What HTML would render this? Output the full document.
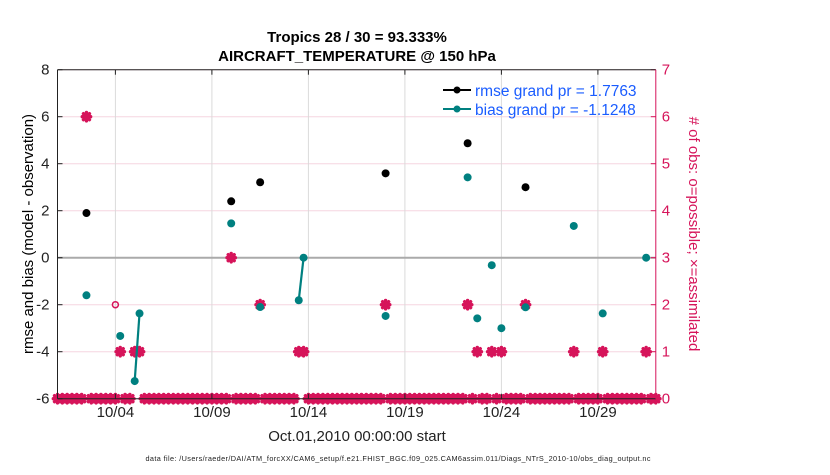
<!DOCTYPE html>
<html><head><meta charset="utf-8"><style>
body{margin:0;background:#fff}
svg text{font-family:"Liberation Sans",Arial,sans-serif}
</style></head><body>
<svg id="chart" width="830" height="470" viewBox="0 0 830 470" xmlns="http://www.w3.org/2000/svg">
<rect width="830" height="470" fill="#fff"/>
<g id="grid"></g><g id="marks"></g><g id="axes"></g>
<text x="357" y="42" text-anchor="middle" font-size="15" font-weight="bold">Tropics 28 / 30 = 93.333%</text>
<text x="357" y="61" text-anchor="middle" font-size="15" font-weight="bold">AIRCRAFT_TEMPERATURE @ 150 hPa</text>
<text transform="translate(33,234) rotate(-90)" text-anchor="middle" font-size="15">rmse and bias (model - observation)</text>
<text transform="translate(689,234) rotate(90)" text-anchor="middle" font-size="15" fill="#d6145a"># of obs: o=possible; ×=assimilated</text>
<text x="357" y="441" text-anchor="middle" font-size="15" fill="#222">Oct.01,2010 00:00:00 start</text>
<text x="398" y="461" text-anchor="middle" font-size="7.3" fill="#222" textLength="505">data file: /Users/raeder/DAI/ATM_forcXX/CAM6_setup/f.e21.FHIST_BGC.f09_025.CAM6assim.011/Diags_NTrS_2010-10/obs_diag_output.nc</text>
<g>
<line x1="443" y1="90" x2="471" y2="90" stroke="#000" stroke-width="2"/><circle cx="457" cy="90" r="3.5" fill="#000"/>
<text x="475" y="96" font-size="15.5" fill="#1a5cff">rmse grand pr = 1.7763</text>
<line x1="443" y1="109" x2="471" y2="109" stroke="#008080" stroke-width="2"/><circle cx="457" cy="109" r="3.5" fill="#008080"/>
<text x="475" y="115" font-size="15.5" fill="#1a5cff">bias grand pr = -1.1248</text>
</g>
</svg>
<script>
const rmseDays=[1.5,9,10.5,17,21.25,24.25];
const rmseVals=[1.9,2.4,3.21,3.59,4.87,3.0];
const biasDays=[1.5,3.25,4,4.25,9,10.5,12.5,12.75,17,21.25,21.75,22.5,23,24.25,26.75,28.25,30.5];
const biasVals=[-1.6,-3.33,-5.25,-2.37,1.46,-2.1,-1.81,0,-2.48,3.42,-2.58,-0.32,-3.0,-2.11,1.35,-2.37,0];
const usedDays=[1.5,3.25,4,4.25,9,10.5,12.5,12.75,17,21.25,21.75,22.5,23,24.25,26.75,28.25,30.5];
const usedCounts=[6,1,1,1,3,2,1,1,2,2,1,1,1,2,1,1,1];
const possDays=[3];
const possCounts=[2];
const leftTicks=[8,6,4,2,0,-2,-4,-6];
const rightTicks=[0,1,2,3,4,5,6,7];
const xTickDays=[3,8,13,18,23,28];
const xTickLabels=['10/04','10/09','10/14','10/19','10/24','10/29'];

const X0=57.5,X1=655.8,Y0=69.7,Y1=398.7;
const x=d=>X0+(X1-X0)*d/31;
const y=v=>Y1-(Y1-Y0)*(v+6)/14;
const yr=c=>Y1-(Y1-Y0)*c/7;
const NS='http://www.w3.org/2000/svg';
function mk(tag,attrs,parent){const e=document.createElementNS(NS,tag);for(const k in attrs)e.setAttribute(k,attrs[k]);parent.appendChild(e);return e;}
const G=document.getElementById('grid'),M=document.getElementById('marks'),A=document.getElementById('axes');
const CR='#d6145a';
rightTicks.forEach(c=>{const l=mk('line',{x1:X0,x2:X1,y1:yr(c),y2:yr(c),stroke:'#f6d6e0','stroke-width':1},G);

});
xTickDays.forEach((d,i)=>{const l=mk('line',{x1:x(d),x2:x(d),y1:Y0,y2:Y1,stroke:'#dadada','stroke-width':1},G);


const t=mk('text',{x:x(d),y:417,'text-anchor':'middle','font-size':15,fill:'#222'},A);t.textContent=xTickLabels[i];


mk('line',{x1:x(d),x2:x(d),y1:Y1,y2:Y1-5,stroke:'#222'},A);mk('line',{x1:x(d),x2:x(d),y1:Y0,y2:Y0+5,stroke:'#222'},A);});
const z=mk('line',{x1:X0,x2:X1,y1:y(0),y2:y(0),stroke:'#aaa','stroke-width':2},G);


leftTicks.forEach(v=>{const t=mk('text',{x:X0-8,y:y(v)+5,'text-anchor':'end','font-size':15,fill:'#222'},A);t.textContent=v;


mk('line',{x1:X0,x2:X0+5,y1:y(v),y2:y(v),stroke:'#222'},A);});
rightTicks.forEach(c=>{const t=mk('text',{x:X1+6,y:yr(c)+5,'font-size':15,fill:CR},A);t.textContent=c;


mk('line',{x1:X1,x2:X1-5,y1:yr(c),y2:yr(c),stroke:CR},A);});
mk('line',{x1:X0,x2:X1,y1:Y0,y2:Y0,stroke:'#222'},A);
mk('line',{x1:X0,x2:X1,y1:Y1,y2:Y1,stroke:'#222'},A);
mk('line',{x1:X0,x2:X0,y1:Y0,y2:Y1,stroke:'#222'},A);
mk('line',{x1:X1,x2:X1,y1:Y0,y2:Y1,stroke:CR},A);

function star(cx,cy,name){const g=mk('g',{stroke:CR,'stroke-width':3.4,'stroke-linecap':'round',fill:CR},M);


const r=4.2,q=3;
mk('circle',{cx:cx,cy:cy,r:2.2,stroke:'none'},g);
mk('line',{x1:cx-r,x2:cx+r,y1:cy,y2:cy},g);mk('line',{x1:cx,x2:cx,y1:cy-r,y2:cy+r},g);
mk('line',{x1:cx-q,x2:cx+q,y1:cy-q,y2:cy+q},g);mk('line',{x1:cx-q,x2:cx+q,y1:cy+q,y2:cy-q},g);}
for(let i=0;i<=124;i++){const d=i*0.25;if(usedDays.includes(d))continue;star(x(d),yr(0),'assimilated-zero-marker');}
possDays.forEach((d,i)=>{const c=mk('circle',{cx:x(d),cy:yr(possCounts[i]),r:3,fill:'none',stroke:CR,'stroke-width':1.5},M);

});
usedDays.forEach((d,i)=>star(x(d),yr(usedCounts[i]),'assimilated-marker'));
for(let i=1;i<biasDays.length;i++){if(Math.abs(biasDays[i]-biasDays[i-1]-0.25)<1e-6){
const l=mk('line',{x1:x(biasDays[i-1]),y1:y(biasVals[i-1]),x2:x(biasDays[i]),y2:y(biasVals[i]),stroke:'#008080','stroke-width':2.2},M);

}}
biasDays.forEach((d,i)=>{const c=mk('circle',{cx:x(d),cy:y(biasVals[i]),r:4,fill:'#008080'},M);

});
rmseDays.forEach((d,i)=>{const c=mk('circle',{cx:x(d),cy:y(rmseVals[i]),r:4,fill:'#000'},M);

});
</script>
</body></html>
